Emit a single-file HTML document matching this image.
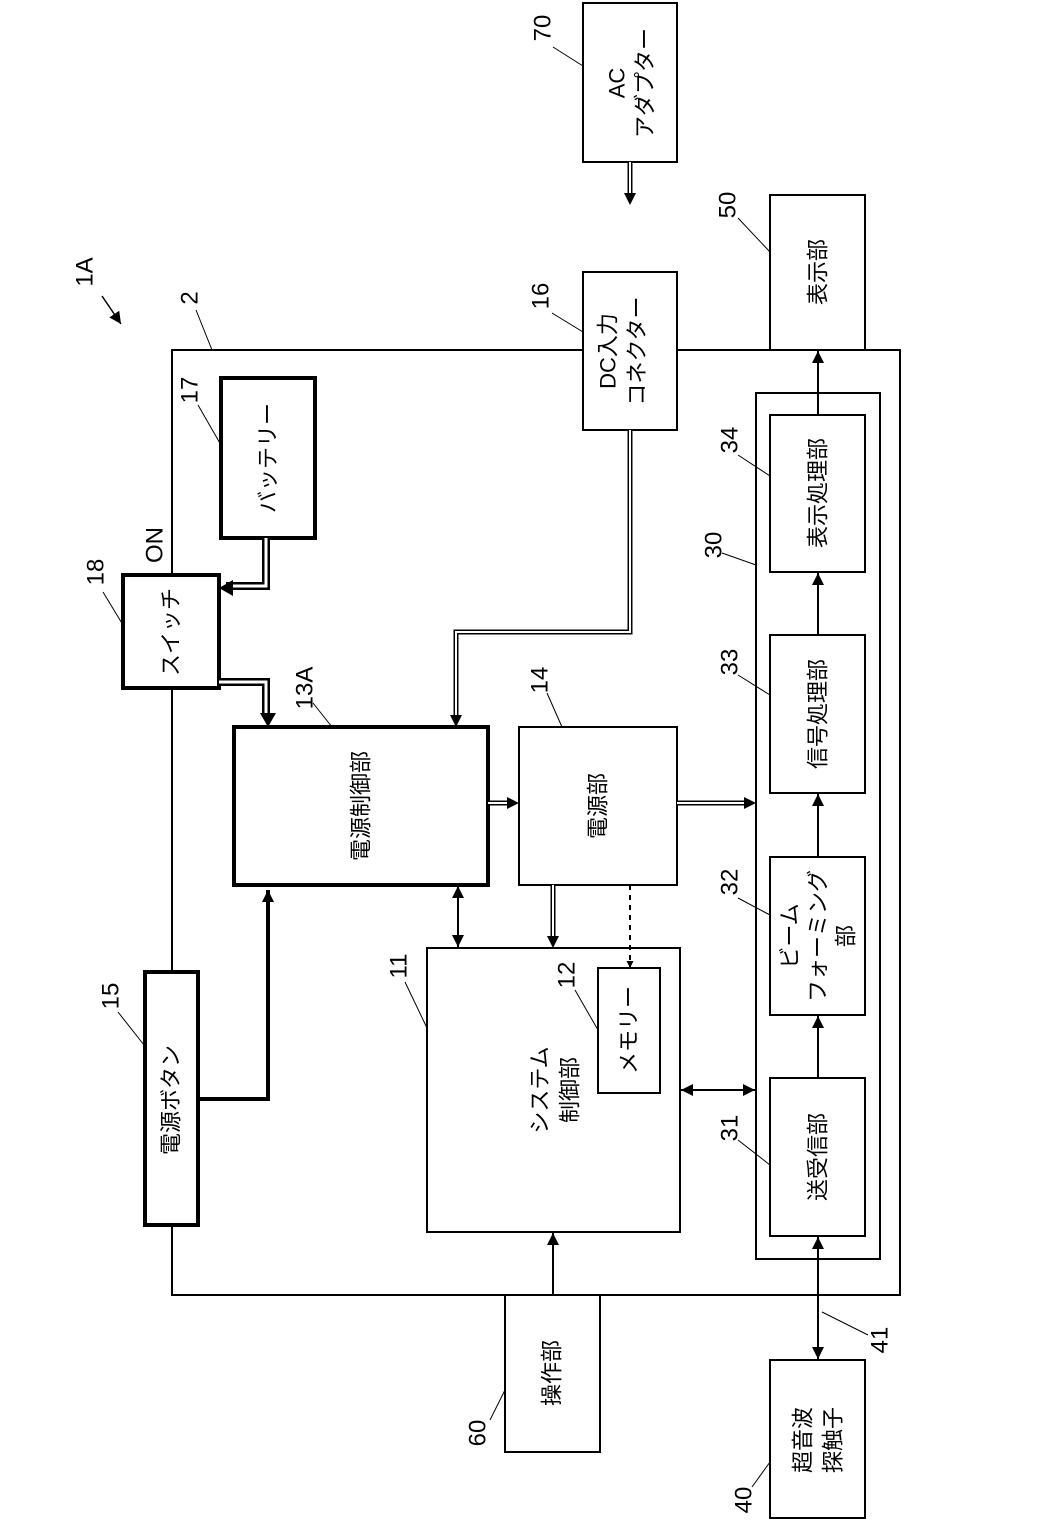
<!DOCTYPE html>
<html><head><meta charset="utf-8"><style>
html,body{margin:0;padding:0;background:#fff}
svg text{font-family:"Liberation Sans","Noto Sans CJK JP",sans-serif;fill:#000}
</style></head><body>
<svg width="1039" height="1528" viewBox="0 0 1039 1528" xmlns="http://www.w3.org/2000/svg">
<defs>
<marker id="a" viewBox="0 0 10 10" refX="10" refY="5" markerWidth="7" markerHeight="7" markerUnits="userSpaceOnUse" orient="auto-start-reverse"><path d="M0,0L10,5L0,10z" fill="#000"/></marker>
<marker id="b" viewBox="0 0 10 10" refX="10" refY="5" markerWidth="12" markerHeight="12" markerUnits="userSpaceOnUse" orient="auto-start-reverse"><path d="M0,0L10,5L0,10z" fill="#000"/></marker>
</defs>
<g fill="none" stroke="#000">
<rect x="172" y="350" width="728" height="945" stroke-width="2"/>
<rect x="756" y="393" width="124" height="866" stroke-width="2" fill="#fff"/>
</g>
<g fill="#fff" stroke="#000">
<rect x="145" y="972" width="53" height="253" stroke-width="4"/>
<rect x="221" y="378" width="94" height="160" stroke-width="4"/>
<rect x="123" y="575" width="96" height="113" stroke-width="4"/>
<rect x="234" y="727" width="254" height="158" stroke-width="4"/>
<rect x="519" y="727" width="158" height="158" stroke-width="2"/>
<rect x="427" y="948" width="253" height="284" stroke-width="2"/>
<rect x="598" y="968" width="62" height="125" stroke-width="2"/>
<rect x="583" y="272" width="94" height="158" stroke-width="2"/>
<rect x="583" y="3" width="94" height="159" stroke-width="2"/>
<rect x="770" y="195" width="95" height="155" stroke-width="2"/>
<rect x="770" y="415" width="95" height="157" stroke-width="2"/>
<rect x="770" y="635" width="95" height="158" stroke-width="2"/>
<rect x="770" y="857" width="95" height="158" stroke-width="2"/>
<rect x="770" y="1078" width="95" height="158" stroke-width="2"/>
<rect x="505" y="1295" width="95" height="157" stroke-width="2"/>
<rect x="770" y="1360" width="95" height="158" stroke-width="2"/>
</g>
<g fill="none" stroke="#000">
<polyline points="198,1099 268,1099 268,890" stroke-width="4" marker-end="url(#b)"/>
<polyline points="266,538 266,586 226,586" stroke-width="8" />
<polyline points="266,538 266,586 226,586" stroke-width="3" stroke="#fff"/>
<path d="M219,588l14,-8v16z" fill="#000" stroke="none"/>
<polyline points="219,682 266,682 266,717" stroke-width="8"/>
<polyline points="219,682 266,682 266,717" stroke-width="3" stroke="#fff"/>
<path d="M268,727l-8,-14h16z" fill="#000" stroke="none"/>
<polyline points="630,430 630,632 456,632 456,718" stroke-width="5"/>
<polyline points="630,430 630,632 456,632 456,718" stroke-width="2" stroke="#fff"/>
<path d="M456,727l-6,-12h12z" fill="#000" stroke="none"/>
<line x1="630" y1="162" x2="630" y2="196" stroke-width="5"/>
<line x1="630" y1="162" x2="630" y2="196" stroke-width="2" stroke="#fff"/>
<path d="M630,205l-6,-12h12z" fill="#000" stroke="none"/>
<line x1="488" y1="803" x2="510" y2="803" stroke-width="5"/>
<line x1="488" y1="803" x2="510" y2="803" stroke-width="2" stroke="#fff"/>
<path d="M519,803l-12,-6v12z" fill="#000" stroke="none"/>
<line x1="677" y1="803" x2="746" y2="803" stroke-width="5"/>
<line x1="677" y1="803" x2="746" y2="803" stroke-width="2" stroke="#fff"/>
<path d="M756,803l-12,-6v12z" fill="#000" stroke="none"/>
<line x1="553" y1="885" x2="553" y2="938" stroke-width="5"/>
<line x1="553" y1="885" x2="553" y2="938" stroke-width="2" stroke="#fff"/>
<path d="M553,948l-6,-12h12z" fill="#000" stroke="none"/>
<line x1="630" y1="885" x2="630" y2="968" stroke-width="2" stroke-dasharray="5,5" marker-end="url(#a)"/>
<line x1="458" y1="886" x2="458" y2="947" stroke-width="2" marker-start="url(#b)" marker-end="url(#b)"/>
<line x1="681" y1="1090" x2="755" y2="1090" stroke-width="2" marker-start="url(#b)" marker-end="url(#b)"/>
<line x1="553" y1="1295" x2="553" y2="1233" stroke-width="2" marker-end="url(#b)"/>
<line x1="818" y1="1237" x2="818" y2="1359" stroke-width="2" marker-start="url(#b)" marker-end="url(#b)"/>
<line x1="818" y1="1078" x2="818" y2="1016" stroke-width="2" marker-end="url(#b)"/>
<line x1="818" y1="857" x2="818" y2="794" stroke-width="2" marker-end="url(#b)"/>
<line x1="818" y1="635" x2="818" y2="573" stroke-width="2" marker-end="url(#b)"/>
<line x1="818" y1="415" x2="818" y2="351" stroke-width="2" marker-end="url(#b)"/>
<line x1="102" y1="296" x2="121" y2="324" stroke-width="1.5" marker-end="url(#b)"/>
<g stroke-width="1">
<line x1="196" y1="310" x2="212" y2="350"/>
<line x1="198" y1="405" x2="221" y2="445"/>
<line x1="103" y1="592" x2="123" y2="625"/>
<line x1="313" y1="703" x2="332" y2="727"/>
<line x1="547" y1="693" x2="562" y2="727"/>
<line x1="552" y1="313" x2="583" y2="332"/>
<line x1="553" y1="47" x2="583" y2="66"/>
<line x1="738" y1="218" x2="770" y2="252"/>
<line x1="738" y1="455" x2="770" y2="476"/>
<line x1="722" y1="553" x2="756" y2="565"/>
<line x1="738" y1="675" x2="770" y2="695"/>
<line x1="738" y1="898" x2="770" y2="915"/>
<line x1="738" y1="1140" x2="770" y2="1165"/>
<line x1="118" y1="1012" x2="144" y2="1045"/>
<line x1="405" y1="982" x2="427" y2="1028"/>
<line x1="575" y1="990" x2="598" y2="1030"/>
<line x1="490" y1="1420" x2="505" y2="1390"/>
<line x1="752" y1="1487" x2="770" y2="1462"/>
<line x1="868" y1="1335" x2="822" y2="1312"/>
</g>
</g>
<g font-size="22">
<text transform="translate(171,1100) rotate(-90)" text-anchor="middle" dominant-baseline="central">電源ボタン</text>
<text transform="translate(268,458) rotate(-90)" text-anchor="middle" dominant-baseline="central">バッテリー</text>
<text transform="translate(171,632) rotate(-90)" text-anchor="middle" dominant-baseline="central">スイッチ</text>
<text transform="translate(361,806) rotate(-90)" text-anchor="middle" dominant-baseline="central">電源制御部</text>
<text transform="translate(598,806) rotate(-90)" text-anchor="middle" dominant-baseline="central">電源部</text>
<text transform="translate(540,1090) rotate(-90)" text-anchor="middle" dominant-baseline="central">システム</text>
<text transform="translate(570,1090) rotate(-90)" text-anchor="middle" dominant-baseline="central">制御部</text>
<text transform="translate(629,1030) rotate(-90)" text-anchor="middle" dominant-baseline="central">メモリー</text>
<text transform="translate(608,351) rotate(-90)" text-anchor="middle" dominant-baseline="central">DC入力</text>
<text transform="translate(637,351) rotate(-90)" text-anchor="middle" dominant-baseline="central">コネクター</text>
<text transform="translate(617,83) rotate(-90)" text-anchor="middle" dominant-baseline="central">AC</text>
<text transform="translate(645,83) rotate(-90)" text-anchor="middle" dominant-baseline="central">アダプター</text>
<text transform="translate(818,272) rotate(-90)" text-anchor="middle" dominant-baseline="central">表示部</text>
<text transform="translate(818,493) rotate(-90)" text-anchor="middle" dominant-baseline="central">表示処理部</text>
<text transform="translate(818,714) rotate(-90)" text-anchor="middle" dominant-baseline="central">信号処理部</text>
<text transform="translate(790,936) rotate(-90)" text-anchor="middle" dominant-baseline="central">ビーム</text>
<text transform="translate(818,936) rotate(-90)" text-anchor="middle" dominant-baseline="central">フォーミング</text>
<text transform="translate(846,936) rotate(-90)" text-anchor="middle" dominant-baseline="central">部</text>
<text transform="translate(818,1157) rotate(-90)" text-anchor="middle" dominant-baseline="central">送受信部</text>
<text transform="translate(552,1373) rotate(-90)" text-anchor="middle" dominant-baseline="central">操作部</text>
<text transform="translate(803,1440) rotate(-90)" text-anchor="middle" dominant-baseline="central">超音波</text>
<text transform="translate(833,1440) rotate(-90)" text-anchor="middle" dominant-baseline="central">探触子</text>
</g>
<g font-size="24">
<text transform="translate(85,272) rotate(-90)" text-anchor="middle" dominant-baseline="central">1A</text>
<text transform="translate(190,298) rotate(-90)" text-anchor="middle" dominant-baseline="central">2</text>
<text transform="translate(190,390) rotate(-90)" text-anchor="middle" dominant-baseline="central">17</text>
<text transform="translate(96,572) rotate(-90)" text-anchor="middle" dominant-baseline="central">18</text>
<text transform="translate(155,545) rotate(-90)" text-anchor="middle" dominant-baseline="central">ON</text>
<text transform="translate(305,688) rotate(-90)" text-anchor="middle" dominant-baseline="central">13A</text>
<text transform="translate(540,680) rotate(-90)" text-anchor="middle" dominant-baseline="central">14</text>
<text transform="translate(541,296) rotate(-90)" text-anchor="middle" dominant-baseline="central">16</text>
<text transform="translate(543,28) rotate(-90)" text-anchor="middle" dominant-baseline="central">70</text>
<text transform="translate(728,205) rotate(-90)" text-anchor="middle" dominant-baseline="central">50</text>
<text transform="translate(730,440) rotate(-90)" text-anchor="middle" dominant-baseline="central">34</text>
<text transform="translate(714,545) rotate(-90)" text-anchor="middle" dominant-baseline="central">30</text>
<text transform="translate(730,662) rotate(-90)" text-anchor="middle" dominant-baseline="central">33</text>
<text transform="translate(730,882) rotate(-90)" text-anchor="middle" dominant-baseline="central">32</text>
<text transform="translate(730,1128) rotate(-90)" text-anchor="middle" dominant-baseline="central">31</text>
<text transform="translate(111,996) rotate(-90)" text-anchor="middle" dominant-baseline="central">15</text>
<text transform="translate(399,966) rotate(-90)" text-anchor="middle" dominant-baseline="central">11</text>
<text transform="translate(567,975) rotate(-90)" text-anchor="middle" dominant-baseline="central">12</text>
<text transform="translate(478,1433) rotate(-90)" text-anchor="middle" dominant-baseline="central">60</text>
<text transform="translate(744,1500) rotate(-90)" text-anchor="middle" dominant-baseline="central">40</text>
<text transform="translate(880,1340) rotate(-90)" text-anchor="middle" dominant-baseline="central">41</text>
</g>
</svg>
</body></html>
